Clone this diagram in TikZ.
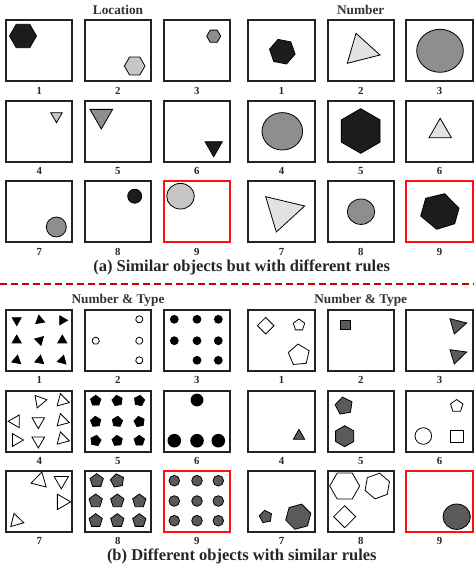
\documentclass[tikz,border=0pt]{standalone}
\usepackage{fontspec}
\setmainfont{Liberation Serif}
\definecolor{blk}{HTML}{1C1C1C}
\definecolor{gry}{HTML}{8E8E8E}
\definecolor{lgry}{HTML}{C6C6C6}
\definecolor{llgry}{HTML}{E2E2E2}
\definecolor{dgry}{HTML}{5A5A5A}
\definecolor{boxc}{HTML}{222222}
\definecolor{ansred}{HTML}{FF1010}
\definecolor{dashred}{HTML}{CC0000}
\newcommand{\rp}[6]{\path[sh,#1,shift={(#3,#4)}] (#6:#5pt) \foreach \k in {2,...,#2}{ -- ({#6+360/#2*(\k-1)}:#5pt)} -- cycle;}
\newcommand{\panel}[7]{%
  \foreach \yy [count=\r from 0] in {#5,#6,#7}{%
    \foreach \xx [count=\c] in {#2,#3,#4}{%
      \pgfmathtruncatemacro{\n}{3*\r+\c}%
      \ifnum\n=9 \def\bc{ansred}\def\bw{1.9pt}\else\def\bc{boxc}\def\bw{2pt}\fi
      \node[box,draw=\bc,line width=\bw] (#1\n) at (\xx,\yy) {};
      \node[lab] (#1l\n) at (\xx,\yy+40) {\n};
    }}}
\begin{document}
\begin{tikzpicture}[x=1pt,y=-1pt,
  box/.style={minimum width=66.5pt,minimum height=61pt,inner sep=0pt,outer sep=0pt},
  lab/.style={font=\fontsize{10.8}{12}\selectfont\bfseries,text=black!85,inner sep=0pt},
  ttl/.style={font=\fontsize{13.3}{15}\selectfont\bfseries,text=black!80,inner sep=0pt},
  captxt/.style={font=\fontsize{16.5}{19}\selectfont\bfseries,text=black!85,inner sep=0pt},
  sh/.style={draw=black,line width=0.8pt},
  redline/.style={draw=dashred,line width=2.2pt,dash pattern=on 7pt off 4pt}]
\useasboundingbox (0,0) rectangle (474,570);
\fill[white] (0,0) rectangle (474,570);
% panels
\panel{a}{39.2}{117.8}{196.8}{50.5}{131}{211.5}
\panel{b}{281.5}{360.8}{439.5}{50.5}{131}{211.5}
\panel{c}{39.2}{117.8}{196.8}{340.4}{421.2}{501.4}
\panel{d}{281.5}{360.8}{439.5}{340.4}{421.2}{501.4}
% titles and captions
\node[ttl] (t1) at (118,10) {Location};
\node[ttl] (t2) at (360.7,10) {Number};
\node[ttl] (t3) at (118,300) {Number \& Type};
\node[ttl] (t4) at (360.7,300) {Number \& Type};
\node[captxt] (c1) at (241.7,267.5) {(a) Similar objects but with different rules};
\node[captxt] (c2) at (241.8,556) {(b) Different objects with similar rules};
\coordinate (dl) at (0,284);
\coordinate (dr) at (474,284);
\draw[redline] (dl) -- (dr);
% ---- (a) Location
\rp{fill=blk}{6}{23}{36}{13.5}{0}
\rp{fill=lgry}{6}{134.7}{66}{10.3}{0}
\rp{fill=gry}{6}{213.7}{36.2}{7}{0}
\rp{fill=lgry}{3}{56.5}{116}{6.7}{-90}
\rp{fill=gry}{3}{101.3}{115.9}{13.1}{-90}
\rp{fill=blk}{3}{213.7}{146.7}{10}{-90}
\path[sh,fill=gry] (56.3,227) circle[radius=10];
\path[sh,fill=blk] (134.7,196.2) circle[radius=7];
\path[sh,fill=lgry] (180.5,196.2) ellipse[x radius=13.8,y radius=12.8];
% ---- (a) Number
\rp{fill=blk}{6}{282.3}{51.7}{13}{-11}
\path[sh,fill=llgry] (356,33.3) -- (380,55) -- (347.3,63.3) -- cycle;
\path[sh,fill=gry] (440,50.8) ellipse[x radius=23.3,y radius=21.5];
\path[sh,fill=gry] (282.3,131.3) ellipse[x radius=20.3,y radius=18.7];
\rp{fill=blk}{6}{360.7}{131}{22.3}{90}
\rp{fill=llgry}{3}{440.2}{131.2}{12.9}{90}
\path[sh,fill=llgry] (265.7,196.7) -- (304.7,206) -- (276.3,232) -- cycle;
\path[sh,fill=gry] (361,211.7) ellipse[x radius=13.7,y radius=12.7];
\path[sh,fill=blk] (425.7,198.3) -- (444.7,193.7) -- (459,208.3) -- (454.7,223.7) -- (436.7,229.3) -- (420.7,216) -- cycle;
% ---- (b) left panel
\foreach \px/\py/\pa in {16.7/320.3/-90, 39.7/320.3/-20, 62.3/320.3/0, 16.7/340.3/90, 39.7/340.3/165, 62.3/340.3/-30, 16.7/360.3/200, 39.7/360.3/80, 62.3/360.3/195}
  {\rp{fill=black}{3}{\px}{\py}{5.2}{\pa}}
\foreach \px/\py in {139.3/319.3, 95.7/340.7, 139.3/340.7, 139.3/360.3}
  {\rp{fill=white}{7}{\px}{\py}{3.6}{90}}
\foreach \px/\py in {174.3/319.3, 197/319.3, 218.3/319.3, 174.3/340.7, 197/340.7, 218.3/340.7, 197/360.3, 218.3/360.3}
  {\path[fill=black] (\px,\py) circle[radius=4.4];}
\foreach \px/\py/\pa in {39.7/401/-110, 62.3/400.7/-15, 15.5/421.3/180, 38.3/421.3/-90, 62.3/420.7/-15, 16.2/440/0, 38.3/440.7/-90, 62.3/439/-15}
  {\rp{fill=white}{3}{\px}{\py}{7.3}{\pa}}
\foreach \px/\py/\pa in {95.7/400.7/90, 117.3/400.7/100, 139.3/400.7/80, 95.7/421.7/95, 117.3/421.7/85, 139.3/421.7/100, 95.7/440.7/80, 117.3/440.7/95, 139.3/440.7/90}
  {\rp{fill=black}{5}{\px}{\py}{5.4}{\pa}}
\path[fill=black] (197,400) circle[radius=6.4];
\foreach \px in {174.3,197,218.3}
  {\path[fill=black] (\px,440.7) circle[radius=6.8];}
\rp{fill=white}{3}{39.7}{480.7}{9}{76}
\rp{fill=white}{3}{61.3}{480.6}{8.3}{-90}
\rp{fill=white}{3}{61.8}{501.9}{8.9}{0}
\rp{fill=white}{3}{16.2}{520.9}{7.8}{-14}
\foreach \px/\py/\pa in {96.7/480.7/162, 117.3/480.7/100, 95.7/501/90, 117.3/501/90, 139.3/501/90, 95.7/520.7/90, 117.3/520.7/90, 139.3/520.7/90}
  {\rp{fill=dgry}{5}{\px}{\py}{7}{\pa}}
\foreach \px in {174.3,197,218.3}
  \foreach \py in {480.7,501,520.7}
  {\path[sh,fill=dgry] (\px,\py) circle[radius=5.3];}
% ---- (b) right panel
\rp{fill=white}{4}{265.7}{325.7}{8.3}{90}
\rp{fill=white}{5}{299}{325}{6}{90}
\rp{fill=white}{5}{299}{355}{11}{95}
\path[sh,fill=dgry] (340,320.5) rectangle (350,329.5);
\path[sh,fill=dgry] (450,318.7) -- (466.7,323) -- (454.3,334) -- cycle;
\path[sh,fill=dgry] (450,349.7) -- (466.7,352) -- (454.3,364) -- cycle;
\rp{fill=dgry}{3}{299}{436}{6.6}{90}
\rp{fill=dgry}{5}{344}{406}{9}{100}
\rp{fill=dgry}{6}{344.7}{436.2}{10.5}{90}
\rp{fill=white}{5}{456.7}{406}{6.5}{90}
\path[sh,fill=white] (423.3,436) circle[radius=8.3];
\path[sh,fill=white] (450,430) rectangle (463.3,442);
\rp{fill=dgry}{5}{265.7}{516.7}{6.5}{100}
\rp{fill=dgry}{6}{298.3}{516.7}{13}{15}
\rp{fill=white}{6}{344.7}{486}{15}{0}
\rp{fill=white}{6}{377.3}{486}{13}{20}
\rp{fill=white}{4}{344.7}{516.7}{11}{90}
\path[sh,fill=dgry] (456.7,516.7) ellipse[x radius=13.7,y radius=12.7];
\end{tikzpicture}
\end{document}
